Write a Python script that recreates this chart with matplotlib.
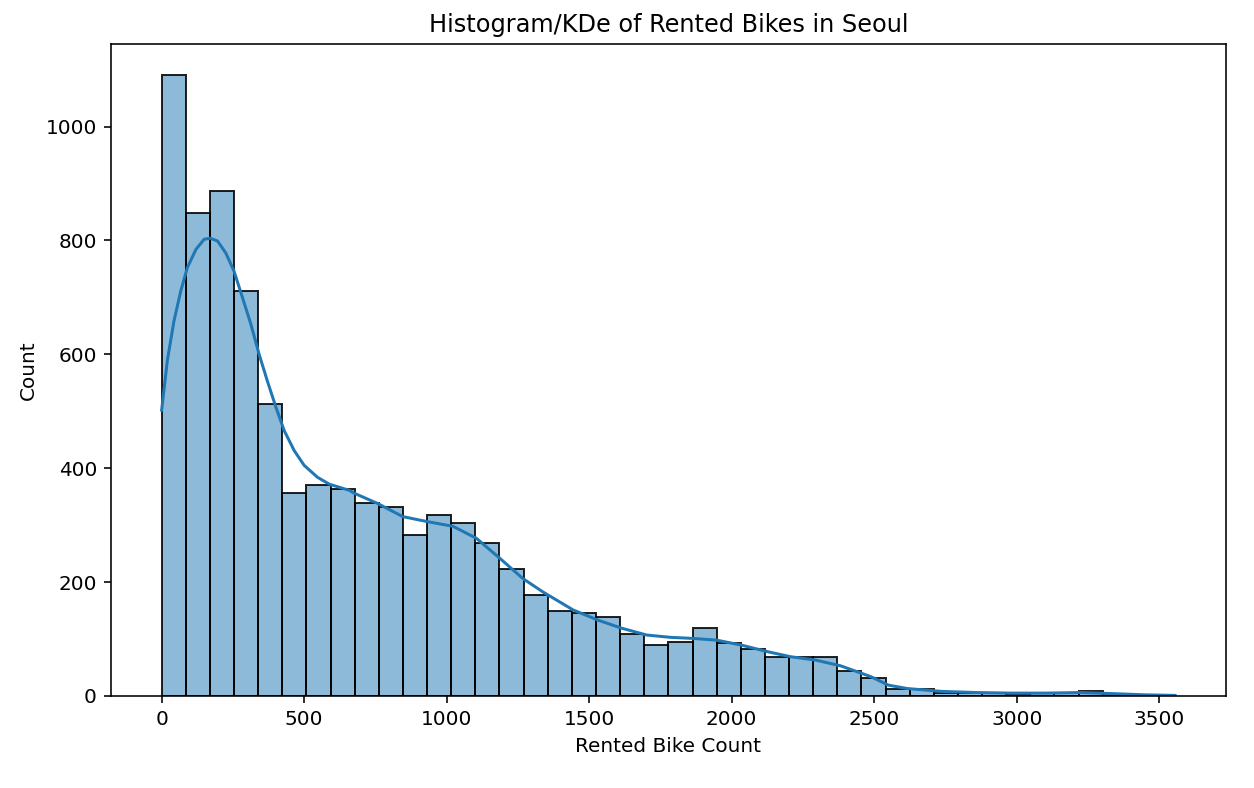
import numpy as np
import matplotlib
matplotlib.use('Agg')
import matplotlib.pyplot as plt

# Conteos por intervalo (42 bins entre 0 y 3556)
x_min, x_max = 0, 3556
conteos = [1090, 848, 886, 712, 512, 356, 370, 363, 339, 332,
           283, 318, 304, 269, 223, 178, 149, 146, 138, 108,
           89, 94, 120, 93, 83, 69, 68, 69, 44, 32,
           13, 13, 6, 5, 5, 2, 6, 6, 9, 2, 2, 1]

# Curva KDE (en escala de conteo), puntos leidos a ojo
kde_x = [0, 20, 43, 67, 90, 120, 149, 170, 196, 225, 254, 284, 313, 342,
         371, 401, 430, 465, 500, 547, 588, 659, 676, 758, 846, 934, 1022,
         1104, 1186, 1268, 1340, 1444, 1532, 1614, 1702, 1784, 1866, 1948,
         2037, 2124, 2206, 2294, 2382, 2488, 2550, 2617, 2738, 2860, 2981,
         3100, 3222, 3343, 3450, 3556]
kde_y = [502, 589, 658, 711, 752, 784, 802, 804, 799, 778, 746, 699, 653, 600,
         553, 507, 466, 431, 405, 384, 372, 361, 356, 338, 315, 306, 298,
         277, 242, 206, 182, 151, 133, 119, 107, 103, 101, 98,
         89, 78, 69, 63, 53, 34, 19, 13, 8, 6, 5,
         5, 6, 4, 2, 1]

bordes = np.linspace(x_min, x_max, len(conteos) + 1)

fig = plt.figure(figsize=(1254 / 144, 788 / 144), dpi=144)
ax = fig.add_axes([0.0885, 0.1168, 0.889, 0.827])

ax.bar(bordes[:-1], conteos, width=np.diff(bordes), align='edge',
       color='#1f77b4', alpha=0.5, edgecolor='none')
ax.bar(bordes[:-1], conteos, width=np.diff(bordes), align='edge',
       facecolor='none', edgecolor='black', linewidth=1.0, alpha=0.85)
ax.plot(kde_x, kde_y, color='#1f77b4', linewidth=1.5)

ax.set_xlim(x_min - 0.05 * (x_max - x_min), x_max + 0.05 * (x_max - x_min))
ax.set_ylim(0, max(conteos) * 1.05)
ax.set_xticks([0, 500, 1000, 1500, 2000, 2500, 3000, 3500])
ax.set_yticks([0, 200, 400, 600, 800, 1000])

ax.set_title('Histogram/KDe of Rented Bikes in Seoul')
ax.set_xlabel('Rented Bike Count')
ax.set_ylabel('Count')

fig.savefig('out.png', dpi=144)
